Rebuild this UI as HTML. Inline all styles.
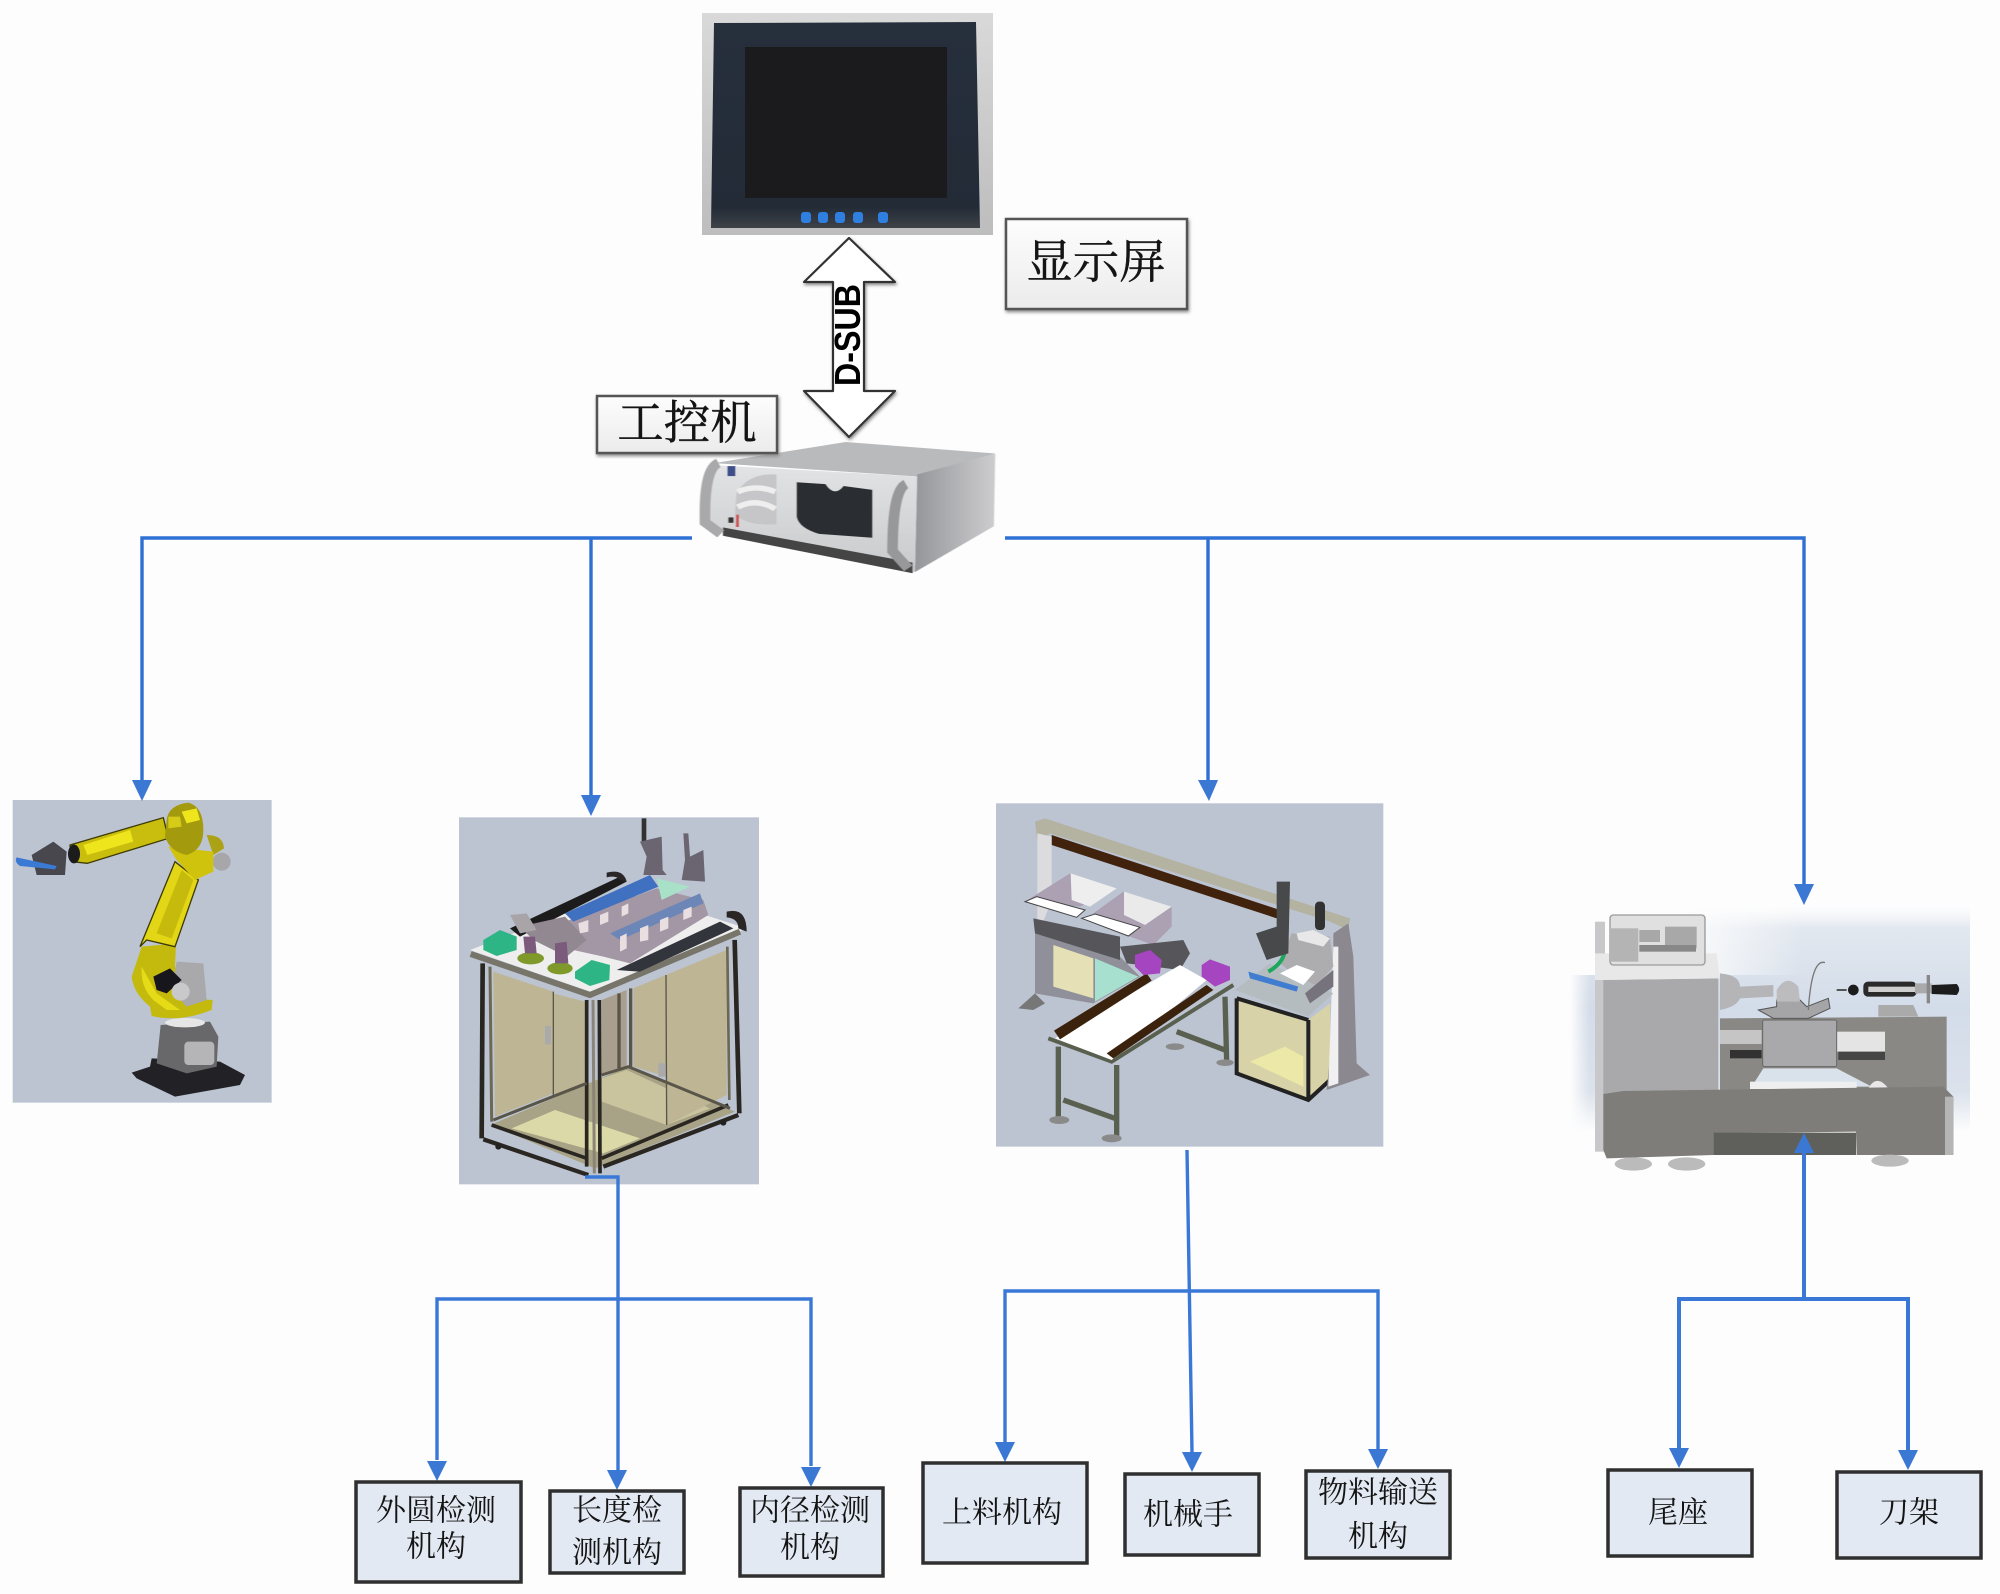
<!DOCTYPE html>
<html><head><meta charset="utf-8">
<style>
html,body{margin:0;padding:0;background:#fdfdfd}
svg{display:block}
text{font-family:"Liberation Sans","Noto Serif CJK SC","Noto Sans CJK SC",serif;fill:#141414}
.l{font-size:30px;text-anchor:middle;dominant-baseline:central}
.big{font-size:46.5px;text-anchor:middle;dominant-baseline:central;stroke:#141414;stroke-width:.4}
.c{fill:none;stroke:#3a78d8;stroke-width:3.4}
.a{fill:#3a78d4}
.b{fill:#e2e9f3;stroke:#2f2f2f;stroke-width:3.5}
</style></head><body>
<svg xmlns="http://www.w3.org/2000/svg" width="2000" height="1594" viewBox="0 0 2000 1594">
<defs>
<filter id="s" x="-5%" y="-5%" width="110%" height="110%"><feGaussianBlur stdDeviation="1"/></filter>
<filter id="sh" x="-10%" y="-10%" width="120%" height="120%"><feDropShadow dx="1" dy="2" stdDeviation="1.5" flood-color="#888"/></filter>
<linearGradient id="boxg" x1="0" y1="0" x2="0" y2="1"><stop offset="0" stop-color="#fdfdfd"/><stop offset="1" stop-color="#ebebeb"/></linearGradient>
<linearGradient id="mon" x1="0" y1="0" x2="0" y2="1"><stop offset="0" stop-color="#d9d9d9"/><stop offset="1" stop-color="#bdbdbd"/></linearGradient>
<linearGradient id="bez" x1="0" y1="0" x2="0" y2="1"><stop offset="0" stop-color="#262f3c"/><stop offset=".9" stop-color="#232b37"/><stop offset="1" stop-color="#3e4248"/></linearGradient>
<linearGradient id="side" x1="0" y1="0" x2="1" y2="0"><stop offset="0" stop-color="#95969a"/><stop offset="1" stop-color="#cdcdd0"/></linearGradient>
<linearGradient id="face" x1="0" y1="0" x2="0" y2="1"><stop offset="0" stop-color="#e2e3e5"/><stop offset="1" stop-color="#c9cacc"/></linearGradient>
<linearGradient id="lv" x1="0" y1="0" x2="0" y2="1"><stop offset="0" stop-color="#e6ebf1"/><stop offset=".45" stop-color="#d3dce9"/><stop offset=".82" stop-color="#dbe2ec"/><stop offset="1" stop-color="#fdfdfd"/></linearGradient>
<linearGradient id="lh" x1="0" y1="0" x2="1" y2="0"><stop offset="0" stop-color="#fdfdfd"/><stop offset=".45" stop-color="#fdfdfd"/><stop offset="1" stop-color="#fdfdfd" stop-opacity="0"/></linearGradient>
<linearGradient id="lh2" x1="0" y1="0" x2="1" y2="0"><stop offset="0" stop-color="#fdfdfd"/><stop offset="1" stop-color="#fdfdfd" stop-opacity="0"/></linearGradient>
<linearGradient id="lh3" x1="0" y1="0" x2="0" y2="1"><stop offset="0" stop-color="#fdfdfd"/><stop offset="1" stop-color="#fdfdfd" stop-opacity="0"/></linearGradient>
</defs>
<rect width="2000" height="1594" fill="#fdfdfd"/>

<!-- monitor -->
<rect x="702" y="13" width="291" height="222" fill="url(#mon)"/>
<polygon points="714,23 976,22 980,228 711,228" fill="url(#bez)"/>
<rect x="745" y="47" width="202" height="151" fill="#1b1b1d"/>
<g fill="#2f7fe0"><rect x="801" y="212" width="10" height="11" rx="3"/><rect x="818" y="212" width="10" height="11" rx="3"/><rect x="835" y="212" width="10" height="11" rx="3"/><rect x="853" y="212" width="10" height="11" rx="3"/><rect x="878" y="212" width="10" height="11" rx="3"/></g>

<!-- industrial PC -->
<g transform="translate(560,0) scale(.4464,.3827)" filter="url(#s)">
<polygon points="345,1210 640,1155 975,1185 800,1245" fill="#b9babc"/>
<polygon points="800,1240 975,1185 972,1375 795,1495" fill="url(#side)"/>
<polygon points="335,1215 800,1245 795,1495 365,1385 325,1370" fill="url(#face)"/>
<polygon points="365,1378 790,1470 790,1498 365,1400" fill="#444"/>
<path d="M355,1210 Q322,1225 325,1365 L360,1395" fill="none" stroke="#a9a9ab" stroke-width="24"/>
<path d="M775,1265 Q745,1280 745,1440 L780,1485" fill="none" stroke="#98989a" stroke-width="24"/>
<path d="M395,1290 Q420,1235 485,1240 L485,1370 Q420,1375 392,1345 Z" fill="#c6c6c9"/>
<path d="M398,1285 Q440,1265 482,1285 M398,1325 Q440,1300 482,1330" stroke="#eeeeee" stroke-width="14" fill="none"/>
<path d="M530,1260 L595,1265 Q615,1300 635,1270 L700,1280 L700,1405 L580,1395 Q535,1380 530,1350 Z" fill="#2b2d31"/>
<rect x="375" y="1218" width="18" height="26" fill="#3e4f8a"/>
<rect x="394" y="1345" width="7" height="32" fill="#c55"/>
<rect x="377" y="1352" width="12" height="14" fill="#333"/>
</g>

<!-- double arrow -->
<polygon points="849,238 895,282 864,282 864,391 895,391 849,437 804,391 833,391 833,282 804,282" fill="#fff" stroke="#333" stroke-width="2.2" stroke-linejoin="round" filter="url(#sh)"/>
<text transform="translate(860,335) rotate(-90)" x="0" y="0" text-anchor="middle" font-size="36" font-weight="700" style="fill:#000" textLength="102" lengthAdjust="spacingAndGlyphs">D-SUB</text>

<!-- robot -->
<g transform="translate(0,780) scale(.33333)" filter="url(#s)">
<rect x="38" y="60" width="777" height="908" fill="#bcc4d2"/>
<polygon points="395,878 450,860 455,835 660,845 735,885 720,915 525,950 410,895" fill="#232325"/>
<polygon points="482,735 630,725 655,770 650,860 560,880 470,850" fill="#68686a"/>
<rect x="553" y="785" width="90" height="70" rx="12" fill="#b5b5b7"/>
<ellipse cx="555" cy="728" rx="60" ry="14" fill="#e6e6e6"/>
<path d="M425,500 L395,590 Q400,640 450,680 L455,708 Q540,728 635,690 L638,660 L575,655 L525,560 L528,490 Z" fill="#c4ba10"/>
<path d="M425,560 Q420,620 460,660 L500,690 L540,690 L470,640 Z" fill="#e5db18"/>
<polygon points="530,545 610,550 620,660 560,680 515,630" fill="#a9a9ab"/>
<polygon points="460,590 510,565 545,600 500,640 470,630" fill="#18181a"/>
<circle cx="542" cy="635" r="27" fill="#c9c9cb"/>
<polygon points="525,245 595,300 525,500 440,480 420,500" fill="#e2d612" stroke="#3d3a06" stroke-width="4"/>
<polygon points="545,270 580,300 515,475 470,460" fill="#c6ba0c"/>
<circle cx="665" cy="245" r="27" fill="#a7a7aa"/>
<path d="M620,165 Q670,165 672,205 L640,225 Z" fill="#aca214"/>
<polygon points="505,200 640,215 640,275 585,300 530,240" fill="#cfc310"/>
<polygon points="210,195 490,113 505,175 262,250 215,245" fill="#c9bd0e" stroke="#3d3a06" stroke-width="4"/>
<polygon points="250,195 390,150 400,185 262,225" fill="#efe51c"/>
<path d="M500,120 Q505,75 565,68 Q610,80 610,150 Q610,210 560,225 Q510,215 495,170 Z" fill="#a39a10"/>
<polygon points="545,95 590,85 600,120 560,130" fill="#efe51c"/>
<polygon points="505,110 540,110 545,140 505,145" fill="#d6cb14"/>
<ellipse cx="222" cy="222" rx="18" ry="28" fill="#1a1a1a"/>
<path d="M95,225 L160,185 L200,215 L195,285 L110,285 Z" fill="#46464e"/>
<path d="M50,232 L170,258 L165,268 L60,258 Q42,245 50,232 Z" fill="#3a7ad4"/>
</g>

<!-- cabinet -->
<g transform="translate(440,800) scale(.33333)" filter="url(#s)">
<rect x="57" y="52" width="900" height="1101" fill="#bcc4d2"/>
<polygon points="150,975 565,800 885,935 465,1105" fill="#a8a386"/>
<polygon points="215,985 345,930 600,1015 490,1060" fill="#dcd9a8"/>
<polygon points="485,835 560,810 810,925 680,975 485,905" fill="#c9c49e"/>
<polygon points="160,515 340,575 340,880 165,950" fill="#bdb594"/>
<polygon points="340,580 435,605 435,850 340,885" fill="#bcb595"/>
<polygon points="580,565 860,450 860,885 680,975 680,830 580,800" fill="#bdb594"/>
<polygon points="485,600 560,570 560,800 485,825" fill="#a89f8e"/>
<g fill="none" stroke="#2a2820">
<path d="M128,490 L125,1015" stroke-width="14"/>
<path d="M150,500 L155,965" stroke-width="9" stroke="#6d6852"/>
<path d="M440,600 L440,1100 M478,600 L480,1120" stroke-width="11"/>
<path d="M459,600 L463,1120" stroke-width="9" stroke="#8a8576"/>
<path d="M884,420 L898,940" stroke-width="14"/>
<path d="M862,440 L868,900" stroke-width="8" stroke="#6d6852"/>
<path d="M537,580 L537,805 M572,565 L572,800" stroke-width="10" stroke="#5a5548"/>
<path d="M130,1018 L445,1125" stroke-width="13"/>
<path d="M155,975 L440,1075" stroke-width="11"/>
<path d="M490,1100 L895,945" stroke-width="13"/>
<path d="M485,1075 L865,915" stroke-width="11"/>
<path d="M485,825 L565,800 L870,925 M160,960 L440,850" stroke-width="9" stroke="#5a5548"/>
<path d="M340,575 L340,885 M678,525 L680,975" stroke-width="4" stroke="#5a5548"/>
</g>
<rect x="315" y="678" width="18" height="55" fill="#aaa"/>
<rect x="655" y="790" width="22" height="40" fill="#aaa"/>
<polygon points="90,450 560,270 920,385 450,575" fill="#eee"/>
<polyline points="92,462 450,585 900,395" fill="none" stroke="#77746a" stroke-width="18" stroke-linejoin="round"/>
<polygon points="210,385 540,230 560,245 240,410" fill="#1f1f1f"/>
<path d="M500,218 Q550,205 560,245 L540,240 Q530,225 500,232 Z" fill="#2b2628"/>
<path d="M860,335 Q920,320 920,395 L895,385 Q895,355 860,352 Z" fill="#2b2628"/>
<polygon points="375,365 650,265 790,300 805,345 570,490 490,470 400,450" fill="#a397a6"/>
<polygon points="240,380 375,350 440,420 380,470 280,420" fill="#928892"/>
<polygon points="650,235 750,260 665,300" fill="#a8e0c8"/>
<polygon points="375,340 630,225 655,260 400,365" fill="#3f6fc0"/>
<polygon points="510,400 780,280 790,310 540,420" fill="#6c86b8"/>
<g fill="#eadfe0"><polygon points="415,370 445,360 445,395 420,400"/><polygon points="480,345 505,335 505,365 480,375"/><polygon points="545,320 565,310 565,340 545,350"/><polygon points="540,410 560,400 560,445 540,455"/><polygon points="600,385 625,375 625,420 600,425"/><polygon points="660,360 685,350 685,385 660,395"/><polygon points="730,330 755,320 755,350 730,360"/></g>
<polygon points="530,510 840,365 880,385 600,515" fill="#33343a"/>
<rect x="605" y="55" width="14" height="70" fill="#333"/>
<polygon points="600,125 665,110 668,210 680,225 610,225 620,170" fill="#6b6570"/>
<polygon points="730,100 745,100 750,170 790,150 795,245 725,240 735,180" fill="#6b6570"/>
<ellipse cx="272" cy="475" rx="40" ry="18" fill="#7f9a2a"/>
<ellipse cx="360" cy="505" rx="38" ry="18" fill="#7f9a2a"/>
<polygon points="250,410 285,410 290,460 255,460" fill="#7b5a7c"/>
<polygon points="345,430 380,425 385,490 345,490" fill="#7b5a7c"/>
<path d="M210,345 L260,340 L290,390 L240,400 Z" fill="#a9a4a8"/>
<polygon points="130,420 180,390 230,410 230,450 170,468 130,450" fill="#2fb586"/>
<polygon points="405,515 455,480 510,495 508,540 450,558 405,535" fill="#2fb586"/>
<circle cx="175" cy="1040" r="9" fill="#222"/><circle cx="850" cy="968" r="9" fill="#222"/>
</g>

<!-- conveyor -->
<g transform="translate(980,790) scale(.33333)" filter="url(#s)">
<rect x="48" y="40" width="1162" height="1030" fill="#bcc4d2"/>
<polygon points="165,95 195,85 1110,385 1105,420 1050,395 210,130 172,155" fill="#b4b3a2"/>
<polygon points="215,135 900,360 890,385 215,165" fill="#3f2410"/>
<polygon points="172,130 215,140 215,330 180,420 172,420" fill="#dcdcde"/>
<polygon points="165,415 420,500 480,560 340,640 165,610" fill="#90909a"/>
<polygon points="220,465 340,505 340,625 220,590" fill="#e5e0b5"/>
<polygon points="345,505 475,560 345,635" fill="#a8e0d0"/>
<polygon points="160,385 420,440 420,510 165,430" fill="#55555a"/>
<polygon points="115,655 165,610 195,640 160,660" fill="#777"/>
<polygon points="270,250 410,295 300,350 135,335" fill="#aca0b3"/>
<polygon points="272,250 410,295 330,350 275,330" fill="#eeeeee"/>
<polygon points="430,305 575,350 575,410 520,465 450,440 340,370" fill="#aca0b3"/>
<polygon points="432,305 575,350 495,405 432,375" fill="#eaeaea"/>
<polygon points="135,335 170,320 315,360 290,382" fill="#fff" stroke="#444" stroke-width="3"/>
<polygon points="305,385 345,372 480,412 445,438" fill="#fff" stroke="#444" stroke-width="3"/>
<polygon points="420,470 610,450 630,490 600,540 440,520" fill="#56565a"/>
<g fill="none" stroke="#5a6050" stroke-width="16"><path d="M235,770 L235,985 M410,825 L410,1045 M250,930 L405,985 M735,620 L740,815 M590,725 L735,780"/><path d="M205,745 L395,815 L760,585" stroke-width="12"/></g>
<ellipse cx="238" cy="990" rx="30" ry="12" fill="#8a8a8a"/><ellipse cx="395" cy="1045" rx="30" ry="12" fill="#8a8a8a"/><ellipse cx="735" cy="818" rx="26" ry="10" fill="#8a8a8a"/><ellipse cx="585" cy="770" rx="28" ry="10" fill="#8a8a8a"/>
<polygon points="225,745 600,525 680,570 395,810" fill="#fff"/>
<polygon points="222,722 500,550 515,572 240,748" fill="#3a2010"/>
<polygon points="380,790 680,585 700,600 400,805" fill="#3a2010"/>
<polygon points="465,495 510,480 545,510 540,550 490,555 465,530" fill="#a645c0"/>
<polygon points="665,525 690,508 750,530 750,570 705,590 665,560" fill="#a645c0"/>
<polygon points="770,620 985,690 1050,640 1050,860 985,930 770,850" fill="#d8d2a8"/>
<polygon points="810,815 915,770 970,800 970,890" fill="#ece8a8"/>
<path d="M770,625 L770,850 L985,930 L1050,870 M985,690 L985,930 M770,625 L985,690" fill="none" stroke="#222" stroke-width="12"/>
<polygon points="1060,430 1105,400 1120,500 1130,820 1170,855 1040,900 1060,700" fill="#8b8890"/>
<polygon points="1060,470 1075,470 1075,880 1045,890" fill="#f0f0f0"/>
<polygon points="935,430 1050,440 1060,530 1000,600 900,520" fill="#adadb0"/>
<polygon points="950,430 1000,420 1050,445 1030,470 955,450" fill="#e8e8e8"/>
<polygon points="765,600 870,520 1060,610 985,680" fill="#b4bcc0"/>
<polygon points="900,550 950,525 1005,545 970,585" fill="#fff"/>
<polygon points="805,545 955,590 950,605 810,565" fill="#3f7cd0"/>
<path d="M865,545 Q910,520 915,480" stroke="#1fa85c" stroke-width="12" fill="none"/>
<polygon points="828,430 890,410 890,275 930,275 925,490 860,510" fill="#47484c"/>
<rect x="1005" y="335" width="30" height="85" rx="12" fill="#333"/>
<polygon points="975,610 1060,540 1060,590 990,640" fill="#77737c"/>
</g>

<!-- lathe -->
<g transform="translate(1560,890) scale(.33333)">
<rect x="30" y="55" width="1200" height="670" fill="url(#lv)"/>
<rect x="30" y="55" width="700" height="200" fill="url(#lh)"/>
<rect x="30" y="240" width="60" height="485" fill="url(#lh2)"/>
<rect x="30" y="55" width="1200" height="60" fill="url(#lh3)"/>
<g filter="url(#s)">
<rect x="105" y="95" width="30" height="690" fill="#c8c8ca"/>
<polygon points="130,270 475,265 475,610 130,615" fill="#a9a9ab"/>
<polygon points="105,190 470,190 480,265 130,270 105,270" fill="#e8e8e8"/>
<rect x="150" y="75" width="285" height="150" rx="10" fill="#e0e0e0" stroke="#9a9a9a" stroke-width="4"/>
<rect x="150" y="115" width="85" height="100" fill="#b4b4b4"/>
<rect x="238" y="120" width="62" height="36" fill="#a8a8a8"/>
<rect x="315" y="110" width="95" height="65" fill="#a8a8a8"/>
<rect x="238" y="165" width="170" height="20" fill="#888"/>
<polygon points="480,385 1160,380 1160,600 480,600" fill="#8a8884"/>
<polygon points="610,535 830,535 935,590 575,590" fill="#d9e1ea"/>
<path d="M480,250 Q540,255 540,290 L640,285 L640,320 L540,325 Q530,350 480,360 Z" fill="#b5b5b7"/>
<rect x="480" y="420" width="125" height="42" fill="#c5c5c5"/>
<rect x="510" y="480" width="95" height="25" fill="#333"/>
<rect x="830" y="425" width="145" height="60" fill="#e4e4e4"/>
<rect x="835" y="485" width="140" height="25" fill="#444"/>
<rect x="608" y="390" width="222" height="140" rx="6" fill="#a9a9ab" stroke="#666" stroke-width="3"/>
<polygon points="595,360 650,350 650,330 720,330 740,350 805,325 810,355 745,385 640,385" fill="#a5a5a7" stroke="#555" stroke-width="3"/>
<path d="M650,300 Q680,250 715,290 L720,335 L650,335 Z" fill="#bcbcbe"/>
<path d="M745,360 Q755,205 795,218" fill="none" stroke="#777" stroke-width="4"/>
<polygon points="955,345 1060,345 1075,380 955,380" fill="#aaa"/>
<rect x="910" y="275" width="160" height="45" rx="14" fill="#2a2a2a"/>
<rect x="925" y="290" width="140" height="16" fill="#cfcfcf"/>
<rect x="1065" y="280" width="50" height="30" fill="#aaa"/>
<rect x="1100" y="255" width="10" height="85" fill="#888"/>
<path d="M1115,285 L1190,282 Q1205,298 1190,315 L1115,312 Z" fill="#1c1c1c"/>
<circle cx="880" cy="300" r="16" fill="#1c1c1c"/>
<rect x="830" y="297" width="30" height="6" fill="#555"/>
<rect x="570" y="575" width="320" height="22" fill="#efefef"/>
<path d="M925,595 Q950,550 985,595 Z" fill="#e8e8e8"/>
<polygon points="130,612 190,603 1150,590 1180,620 1180,795 890,795 888,725 460,730 460,795 140,805 130,780" fill="#7e7d7a"/>
<rect x="1155" y="620" width="25" height="175" fill="#b5b5b5"/>
<rect x="460" y="728" width="428" height="67" fill="#5e5e5c"/>
<ellipse cx="220" cy="822" rx="56" ry="20" fill="#bbb"/><ellipse cx="380" cy="822" rx="56" ry="20" fill="#bbb"/><ellipse cx="990" cy="812" rx="56" ry="18" fill="#bbb"/>
</g></g>

<!-- connectors top -->
<path d="M692,538 H142 V780 M591,538 V795 M1005,538 H1804 V885 M1208,538 V780" class="c" style="stroke:#2e70d4"/>
<polygon points="132,780 152,780 142,801" class="a"/>
<polygon points="581,795 601,795 591,816" class="a"/>
<polygon points="1198,780 1218,780 1209,801" class="a"/>
<polygon points="1794,884 1814,884 1804,905" class="a"/>

<!-- connectors bottom -->
<path d="M585,1177 H618 V1470 M437,1460 V1299 H811 V1466" class="c"/>
<polygon points="427,1461 447,1461 437,1481" class="a"/>
<polygon points="607,1470 627,1470 617,1490" class="a"/>
<polygon points="801,1467 821,1467 811,1487" class="a"/>
<path d="M1005,1442 V1291 H1378 V1449 M1187,1150 L1192,1452" class="c"/>
<polygon points="995,1442 1015,1442 1005,1462" class="a"/>
<polygon points="1182,1452 1202,1452 1192,1472" class="a"/>
<polygon points="1368,1449 1388,1449 1378,1469" class="a"/>
<path d="M1679,1448 V1299 H1908 V1450 M1804,1299 V1152" class="c" style="stroke-width:4"/>
<polygon points="1669,1448 1689,1448 1679,1468" class="a"/>
<polygon points="1898,1450 1918,1450 1908,1470" class="a"/>
<polygon points="1794,1153 1814,1153 1804,1133" class="a"/>

<!-- top labels -->
<rect x="1006" y="219" width="181" height="90" fill="url(#boxg)" stroke="#555" stroke-width="2.5" filter="url(#sh)"/>
<text class="big" x="1096" y="262">显示屏</text>
<rect x="597" y="396" width="180" height="57" fill="url(#boxg)" stroke="#555" stroke-width="2.5" filter="url(#sh)"/>
<text class="big" x="687" y="423">工控机</text>

<!-- bottom boxes -->
<rect class="b" x="356" y="1482" width="165" height="100"/>
<text class="l" x="436" y="1511">外圆检测</text><text class="l" x="436" y="1547">机构</text>
<rect class="b" x="550" y="1491" width="134" height="82"/>
<text class="l" x="617" y="1511">长度检</text><text class="l" x="617" y="1553">测机构</text>
<rect class="b" x="740" y="1488" width="143" height="88"/>
<text class="l" x="810" y="1511">内径检测</text><text class="l" x="810" y="1548">机构</text>
<rect class="b" x="923" y="1463" width="164" height="100"/>
<text class="l" x="1002" y="1513">上料机构</text>
<rect class="b" x="1125" y="1474" width="134" height="81"/>
<text class="l" x="1188" y="1515">机械手</text>
<rect class="b" x="1306" y="1471" width="144" height="87"/>
<text class="l" x="1378" y="1493">物料输送</text><text class="l" x="1378" y="1537">机构</text>
<rect class="b" x="1608" y="1470" width="144" height="86"/>
<text class="l" x="1678" y="1513">尾座</text>
<rect class="b" x="1837" y="1472" width="144" height="86"/>
<text class="l" x="1909" y="1513">刀架</text>
</svg>
</body></html>
